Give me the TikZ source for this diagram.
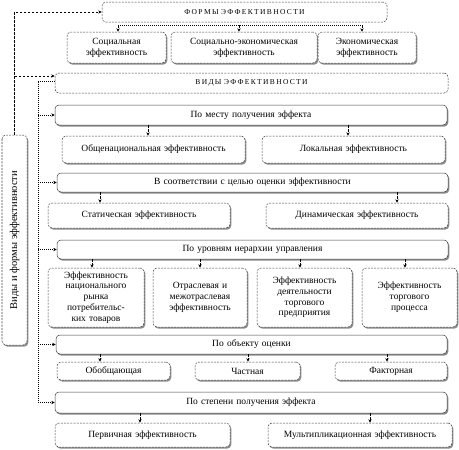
\documentclass[tikz,border=0pt]{standalone}
\usepackage{fontspec}
\setmainfont{Liberation Serif}
\usetikzlibrary{shadows,arrows.meta}
\tikzset{
  box/.style={draw=black!75, line width=0.5pt, rounded corners=4pt, fill=white, align=center, inner sep=1pt, font=\fontsize{9.5}{10.8}\selectfont},
  shad/.style={drop shadow={shadow xshift=1.3pt, shadow yshift=-1.6pt, fill=black!45, opacity=1}},
  catbox/.style={box, shad},
  subbox/.style={box, shad, dash pattern=on 2pt off 1.2pt},
  hdrbox/.style={box, dash pattern=on 2pt off 1.2pt, font=\fontsize{7.5}{8}\selectfont\addfontfeature{LetterSpace=18}},
  conn/.style={draw=black, line width=0.5pt, dash pattern=on 2.5pt off 1.5pt},
  rail/.style={draw=black, line width=0.5pt, dash pattern=on 1pt off 1pt},
  tip/.style={-{Stealth[length=3.5pt,width=3.2pt]}},
}
\newcommand\bx[7]{\node[#6, minimum width={(#4-#2)*1pt}, minimum height={(#5-#3)*1pt}, text width={(#4-#2-6)*1pt}] (#1) at ({(#2+#4)/2},{(#3+#5)/2}) {#7};}
\begin{document}
\begin{tikzpicture}[x=1pt,y=-1pt]
\useasboundingbox (0,0) rectangle (459,450);
% header boxes
\bx{forms}{102}{2}{387}{22}{hdrbox}{ФОРМЫ ЭФФЕКТИВНОСТИ}
\bx{socs}{67}{32}{166}{63}{subbox}{Социальная\\эффективность}
\bx{soce}{171}{32}{317}{63}{subbox}{Социально-экономическая\\эффективность}
\bx{econ}{318}{32}{416}{63}{subbox}{Экономическая\\эффективность}
\bx{vidy}{55}{73}{448}{93}{hdrbox}{ВИДЫ ЭФФЕКТИВНОСТИ}
% categories
\bx{mesto}{55}{105}{447}{125}{catbox}{По месту получения эффекта}
\bx{obsh}{62}{136}{245}{163}{subbox}{Общенациональная эффективность}
\bx{lok}{262}{136}{445}{163}{subbox}{Локальная эффективность}
\bx{cel}{57}{173}{448}{192}{catbox}{В соответствии с целью оценки эффективности}
\bx{stat}{48}{203}{230}{228}{subbox}{Статическая эффективность}
\bx{dyn}{266}{203}{448}{228}{subbox}{Динамическая эффективность}
\bx{urov}{57}{240}{448}{259}{catbox}{По уровням иерархии управления}
\bx{ua}{48}{268}{144}{327}{subbox}{Эффективность\\национального\\рынка\\потребительс-\\ких товаров}
\bx{ub}{153}{268}{247}{327}{subbox}{Отраслевая и\\межотраслевая\\эффективность}
\bx{uc}{257}{268}{352}{327}{subbox}{Эффективность\\деятельности\\торгового\\предприятия}
\bx{ud}{362}{268}{457}{327}{subbox}{Эффективность\\торгового\\процесса}
\bx{obj}{56}{335}{447}{354}{catbox}{По объекту оценки}
\bx{oba}{57}{362}{170}{380}{subbox}{Обобщающая}
\bx{obb}{195}{362}{300}{380}{subbox}{Частная}
\bx{obc}{335}{362}{447}{380}{subbox}{Факторная}
\bx{stp}{55}{392}{447}{413}{catbox}{По степени получения эффекта}
\bx{sta}{55}{423}{230}{447}{subbox}{Первичная эффективность}
\bx{stb}{268}{423}{452}{447}{subbox}{Мультипликационная эффективность}
% left vertical box
\node[subbox, rotate=90, minimum width=210pt, minimum height=25pt, font=\fontsize{10.5}{12}\selectfont] (vl) at (14.5,240) {Виды и формы эффективности};
% outer connector
\draw[conn, tip] (vl.east) |- (forms.west);
\coordinate (vin) at ([yshift=7pt]vidy.west);
\draw[conn, tip] (vl.east |- vin) -- (vin);
% forms bus
\coordinate (busL) at (118,25);
\coordinate (busR) at (362,25);
\draw[rail] (busL) -- (busR);
\draw[conn, tip] (busL) -- (busL |- socs.north);
\draw[conn, tip] (239,25) -- (239,0 |- soce.north);
\draw[conn, tip] (busR) -- (busR |- econ.north);
% inner rail
\coordinate (rl) at (38,0);
\draw[rail, tip] ([yshift=2pt]vidy.west) -| (rl |- stp.west) -- (stp.west);
\foreach \n in {mesto,cel,urov,obj} \draw[rail, tip] (rl |- \n.west) -- (\n.west);
% category to item arrows
\draw[conn, tip] (148,0 |- mesto.south) -- (148,0 |- obsh.north);
\draw[conn, tip] (348,0 |- mesto.south) -- (348,0 |- lok.north);
\draw[conn, tip] (100,0 |- cel.south) -- (100,0 |- stat.north);
\draw[conn, tip] (397,0 |- cel.south) -- (397,0 |- dyn.north);
\draw[conn, tip] (92,0 |- urov.south) -- (92,0 |- ua.north);
\draw[conn, tip] (200,0 |- urov.south) -- (200,0 |- ub.north);
\draw[conn, tip] (300,0 |- urov.south) -- (300,0 |- uc.north);
\draw[conn, tip] (405,0 |- urov.south) -- (405,0 |- ud.north);
\draw[conn, tip] (100,0 |- obj.south) -- (100,0 |- oba.north);
\draw[conn, tip] (248,0 |- obj.south) -- (248,0 |- obb.north);
\draw[conn, tip] (387,0 |- obj.south) -- (387,0 |- obc.north);
\draw[conn, tip] (140,0 |- stp.south) -- (140,0 |- sta.north);
\draw[conn, tip] (370,0 |- stp.south) -- (370,0 |- stb.north);
\end{tikzpicture}
\end{document}
